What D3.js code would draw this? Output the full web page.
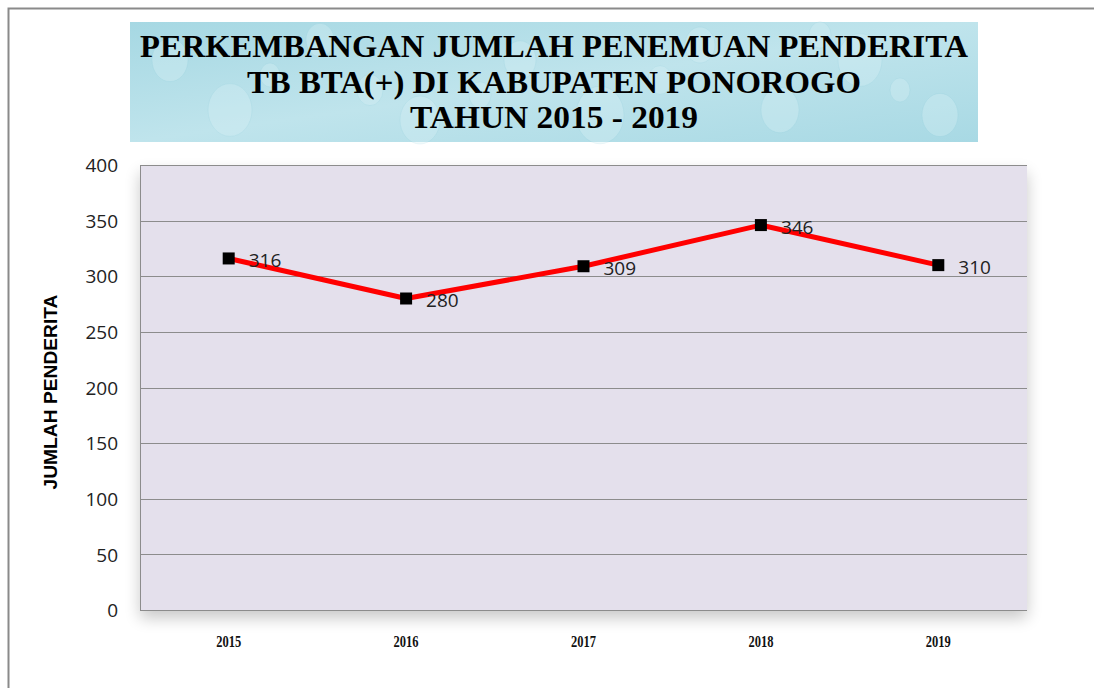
<!DOCTYPE html>
<html><head><meta charset="utf-8">
<script src="https://cdn.jsdelivr.net/npm/d3@7"></script>
<style>body{margin:0;background:#fff;}svg{display:block;}</style>
</head><body>
<svg id="c" width="1094" height="688"></svg>
<script>
const categories = ["2015","2016","2017","2018","2019"];
const values = [316, 280, 309, 346, 310];
const yTicks = [0,50,100,150,200,250,300,350,400];
const titleLines = ["PERKEMBANGAN JUMLAH PENEMUAN PENDERITA","TB BTA(+) DI KABUPATEN PONOROGO","TAHUN 2015 - 2019"];
const yTitle = "JUMLAH PENDERITA";

const svg = d3.select("#c");
const W = 1094, H = 688;
const plot = {l:140, r:1027, t:165, b:610};

const defs = svg.append("defs");
const g1 = defs.append("linearGradient").attr("id","water").attr("x1","0").attr("y1","0").attr("x2","1").attr("y2","1");
g1.append("stop").attr("offset","0").attr("stop-color","#a6d8e3");
g1.append("stop").attr("offset","0.5").attr("stop-color","#bfe4ec");
g1.append("stop").attr("offset","1").attr("stop-color","#a8d9e4");
const sh = defs.append("filter").attr("id","shadow").attr("x","-5%").attr("y","-5%").attr("width","110%").attr("height","115%");
sh.append("feGaussianBlur").attr("in","SourceAlpha").attr("stdDeviation","8");
sh.append("feOffset").attr("dx","0").attr("dy","8").attr("result","b");
sh.append("feComponentTransfer").append("feFuncA").attr("type","linear").attr("slope","0.22");
const fm = sh.append("feMerge"); fm.append("feMergeNode"); fm.append("feMergeNode").attr("in","SourceGraphic");

// border
svg.append("path").attr("d",`M8.5,${H} L8.5,8.5 L${W},8.5`).attr("fill","none").attr("stroke","#8a8a8a").attr("stroke-width",2);

// title banner
const bx=130, by=22, bw=848, bh=120;
svg.append("rect").attr("x",bx).attr("y",by).attr("width",bw).attr("height",bh).attr("fill","url(#water)");
const drops = [[170,60,18],[230,110,22],[320,40,14],[420,120,20],[520,60,16],[600,115,24],[700,45,15],[780,110,19],[860,60,22],[940,115,18],[270,75,10],[480,95,11],[660,80,12],[900,90,10],[370,90,13],[820,35,11]];
svg.append("g").selectAll("ellipse").data(drops).join("ellipse")
  .attr("cx",d=>d[0]).attr("cy",d=>d[1]).attr("rx",d=>d[2]).attr("ry",d=>d[2]*1.2)
  .attr("fill","#d8f1f6").attr("opacity",0.35).attr("stroke","#7fc2d2").attr("stroke-opacity",0.4);
svg.append("g").selectAll("text").data(titleLines).join("text")
  .attr("x", bx+bw/2).attr("y",(d,i)=>57+i*35.5)
  .attr("text-anchor","middle").attr("font-family","Liberation Serif, DejaVu Serif, serif")
  .attr("font-weight","bold").attr("font-size",32).attr("fill","#000")
  .attr("textLength",(d,i)=>[828,614,288][i]).attr("lengthAdjust","spacingAndGlyphs")
  .text(d=>d);

// scales
const x = d3.scaleBand().domain(categories).range([plot.l, plot.r]);
const y = d3.scaleLinear().domain([0,400]).range([plot.b, plot.t]);

svg.append("rect").attr("x",plot.l).attr("y",plot.t).attr("width",plot.r-plot.l).attr("height",plot.b-plot.t)
  .attr("fill","#e4e0ec").attr("filter","url(#shadow)");

// gridlines
svg.append("g").selectAll("line").data(yTicks).join("line")
  .attr("x1",plot.l).attr("x2",plot.r).attr("y1",d=>Math.round(y(d))+0.5).attr("y2",d=>Math.round(y(d))+0.5)
  .attr("stroke","#8c8c8c").attr("stroke-width",1);
svg.append("line").attr("x1",plot.l+0.5).attr("x2",plot.l+0.5).attr("y1",plot.t).attr("y2",plot.b).attr("stroke","#8c8c8c");

// y axis
const ya = svg.append("g").attr("transform",`translate(${plot.l-22},0)`)
  .call(d3.axisLeft(y).tickValues(yTicks).tickSize(0).tickPadding(0));
ya.select(".domain").remove();
ya.selectAll("text").attr("font-family","Open Sans, Liberation Sans, sans-serif").attr("font-size",19).attr("fill","#222").attr("dy","0.35em");

// x axis
const xa = svg.append("g").attr("transform",`translate(0,${plot.b+25})`)
  .call(d3.axisBottom(x).tickSize(0).tickPadding(0));
xa.select(".domain").remove();
xa.selectAll("text").attr("font-family","Liberation Serif, DejaVu Serif, serif").attr("font-weight","bold").attr("font-size",17).attr("fill","#111").attr("dy","0.71em")
  .attr("textLength",25).attr("lengthAdjust","spacingAndGlyphs");

// y title
svg.append("text").attr("transform",`translate(57,392) rotate(-90)`).attr("text-anchor","middle")
  .attr("font-family","Liberation Sans, Arial, sans-serif").attr("font-weight","bold").attr("font-size",19).attr("fill","#000")
  .attr("textLength",195).attr("lengthAdjust","spacingAndGlyphs").text(yTitle);

// line
const data = categories.map((c,i)=>({c, v:values[i]}));
const cx = d=>x(d.c)+x.bandwidth()/2;
svg.append("path").datum(data).attr("fill","none").attr("stroke","#ff0000").attr("stroke-width",5).attr("stroke-linejoin","round")
  .attr("d", d3.line().x(cx).y(d=>y(d.v)));
svg.append("g").selectAll("rect").data(data).join("rect")
  .attr("x",d=>cx(d)-6).attr("y",d=>y(d.v)-6).attr("width",12).attr("height",12).attr("fill","#000");
svg.append("g").selectAll("text").data(data).join("text")
  .attr("x",d=>cx(d)+20).attr("y",d=>y(d.v)+2).attr("dy","0.35em")
  .attr("font-family","Open Sans, Liberation Sans, sans-serif").attr("font-size",19).attr("fill","#222")
  .text(d=>d.v);
</script>
</body></html>
